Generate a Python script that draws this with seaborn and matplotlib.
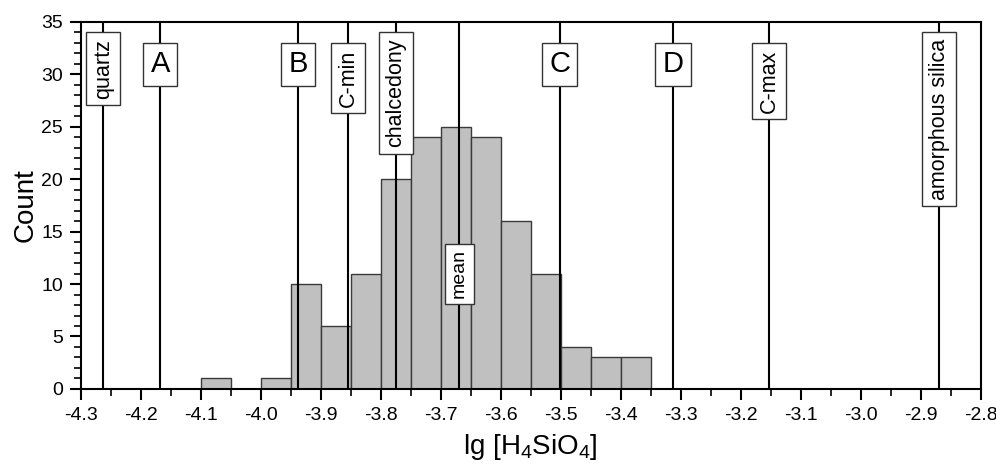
import matplotlib
matplotlib.use('Agg')
import matplotlib.pyplot as plt
from matplotlib.ticker import MultipleLocator
import seaborn as sns
import numpy as np

# histogram of lg[H4SiO4], bin width 0.05
bin_edges = [-4.10, -4.05, -4.00, -3.95, -3.90, -3.85, -3.80, -3.75, -3.70,
             -3.65, -3.60, -3.55, -3.50, -3.45, -3.40, -3.35]
counts = [1, 0, 1, 10, 6, 11, 20, 24, 25, 24, 16, 11, 4, 3, 3]

# reference lines (solubility of phases etc.)
line_names = ['quartz', 'A', 'B', 'C-min', 'chalcedony', 'mean', 'C', 'D', 'C-max', 'amorphous silica']
line_x = [-4.263, -4.168, -3.938, -3.855, -3.775, -3.669, -3.502, -3.313, -3.153, -2.869]
label_top = [33.4, 32.3, 32.3, 32.4, 33.4, 13.3, 32.3, 32.3, 32.4, 33.4]
label_rot = [90, 0, 0, 90, 90, 90, 0, 0, 90, 90]

sns.set_style('ticks')
plt.rcParams['font.family'] = ['Liberation Sans', 'DejaVu Sans']
plt.rcParams['mathtext.fontset'] = 'custom'
plt.rcParams['mathtext.rm'] = 'Liberation Sans'
plt.rcParams['mathtext.it'] = 'Liberation Sans'
plt.rcParams['text.color'] = 'black'
plt.rcParams['axes.labelcolor'] = 'black'
plt.rcParams['xtick.color'] = 'black'
plt.rcParams['ytick.color'] = 'black'

fig = plt.figure(figsize=(9.96, 4.68), dpi=100)
ax = fig.add_axes([0.0813, 0.169, 0.9033, 0.784])

centers = (np.array(bin_edges[:-1]) + np.array(bin_edges[1:])) / 2
sns.histplot(x=centers, weights=counts, bins=bin_edges, ax=ax,
             color='#c0c0c0', edgecolor='#3a3a3a', linewidth=1.0, alpha=1)

for name, x, top, rot in zip(line_names, line_x, label_top, label_rot):
    ax.axvline(x, color='black', lw=1.5, zorder=3)
    if rot == 0:
        fs, pad = 21, 0.25
    elif name == 'mean':
        fs, pad = 14, 0.3
    else:
        fs, pad = 15.5, 0.3
    ax.text(x, top, name, rotation=rot, ha='center', va='top', fontsize=fs,
            zorder=4,
            bbox=dict(boxstyle=f'square,pad={pad}', fc='white', ec='#333333', lw=1.0))

ax.set_xlim(-4.3, -2.8)
ax.set_ylim(0, 35)
ax.xaxis.set_major_locator(MultipleLocator(0.1))
ax.xaxis.set_minor_locator(MultipleLocator(0.05))
ax.yaxis.set_major_locator(MultipleLocator(5))
ax.yaxis.set_minor_locator(MultipleLocator(1))
ax.set_xticklabels([f'{v:.1f}'.replace('\u2212', '-') for v in ax.get_xticks()])
ax.tick_params(which='major', direction='out', length=8, width=1.5, labelsize=14,
               color='black', pad=5)
ax.tick_params(which='minor', direction='out', length=5, width=1.2, color='black')
for s in ax.spines.values():
    s.set_linewidth(1.5)
    s.set_color('black')

ax.set_xlabel(r'lg [H$_4$SiO$_4$]', fontsize=20, labelpad=6)
ax.set_ylabel('Count', fontsize=20, labelpad=2)

fig.savefig('out.png', dpi=100)
